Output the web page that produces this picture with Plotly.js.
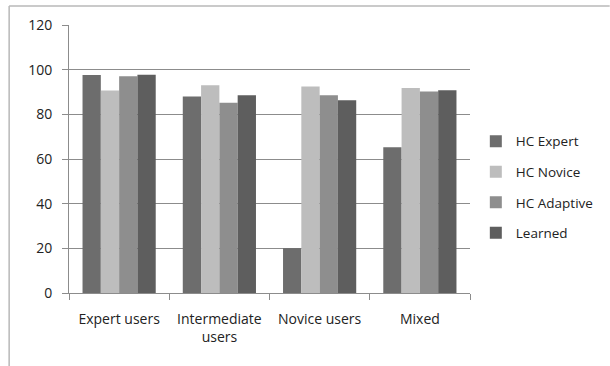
<!DOCTYPE html>
<html>
<head>
<meta charset="utf-8">
<script src="https://cdn.plot.ly/plotly-3.0.1.min.js"></script>
<style>
  html, body { margin: 0; padding: 0; background: #ffffff; }
  #chart { width: 610px; height: 366px; }
</style>
</head>
<body>
<div id="chart"></div>
<script>
// User groups along the x axis
const categories = ['Expert users', 'Intermediate<br>users', 'Novice users', 'Mixed'];

// Scores per controller
const hcExpert   = [97.6, 88.0, 20.1, 65.3];
const hcNovice   = [90.7, 93.0, 92.5, 91.8];
const hcAdaptive = [97.0, 85.2, 88.6, 90.2];
const learned    = [97.7, 88.6, 86.3, 90.8];

const seriesNames  = ['HC Expert', 'HC Novice', 'HC Adaptive', 'Learned'];
const seriesValues = [hcExpert, hcNovice, hcAdaptive, learned];
const seriesColors = ['#6d6d6d', '#bdbdbd', '#8e8e8e', '#5e5e5e'];

const yTicks = [0, 20, 40, 60, 80, 100, 120];

const traces = seriesNames.map((name, i) => ({
  type: 'bar',
  name: name,
  x: categories,
  y: seriesValues[i],
  marker: { color: seriesColors[i], line: { width: 0 } },
  legendgroup: name,
  hoverinfo: 'skip'
}));

const axisGrey = '#8c8c8c';
const textColor = '#222222';

const layout = {
  width: 610,
  height: 366,
  margin: { l: 69, r: 139, t: 25, b: 73 },
  paper_bgcolor: '#ffffff',
  plot_bgcolor: '#ffffff',
  font: { family: '"Open Sans", "Noto Sans", sans-serif', size: 14, color: textColor },
  barmode: 'group',
  bargap: 0.27,
  bargroupgap: 0,
  showlegend: true,
  legend: {
    x: 1.012,
    xanchor: 'left',
    y: 0.394,
    yanchor: 'middle',
    font: { size: 13.5, color: textColor },
    traceorder: 'grouped',
    tracegroupgap: 10,
    bgcolor: 'rgba(0,0,0,0)'
  },
  xaxis: {
    type: 'category',
    showline: true,
    linecolor: axisGrey,
    linewidth: 1,
    ticks: 'outside',
    tickson: 'boundaries',
    ticklen: 6,
    tickcolor: axisGrey,
    showgrid: false,
    ticklabelstandoff: 13,
    tickfont: { size: 14, color: textColor },
    zeroline: false,
    fixedrange: true
  },
  yaxis: {
    range: [0, 120],
    tickvals: yTicks,
    ticktext: yTicks.map(String),
    showline: true,
    linecolor: axisGrey,
    linewidth: 1,
    ticks: 'outside',
    ticklen: 6,
    tickcolor: axisGrey,
    showgrid: true,
    gridcolor: axisGrey,
    gridwidth: 1,
    zeroline: false,
    ticklabelstandoff: 7,
    tickfont: { size: 14, color: textColor },
    fixedrange: true
  },
  shapes: [
    // outer chart frame: top and left edges
    { type: 'line', xref: 'paper', yref: 'paper',
      x0: (9 - 69) / 402, x1: (611 - 69) / 402, y0: 1 + (25 - 6) / 268, y1: 1 + (25 - 6) / 268,
      line: { color: '#b8b8b8', width: 1.5 } },
    { type: 'line', xref: 'paper', yref: 'paper',
      x0: (9 - 69) / 402, x1: (9 - 69) / 402, y0: 1 + (25 - 6) / 268, y1: -(80 / 268),
      line: { color: '#b8b8b8', width: 1.5 } }
  ]
};

Plotly.newPlot('chart', traces, layout, { staticPlot: true, displayModeBar: false });
</script>
</body>
</html>
